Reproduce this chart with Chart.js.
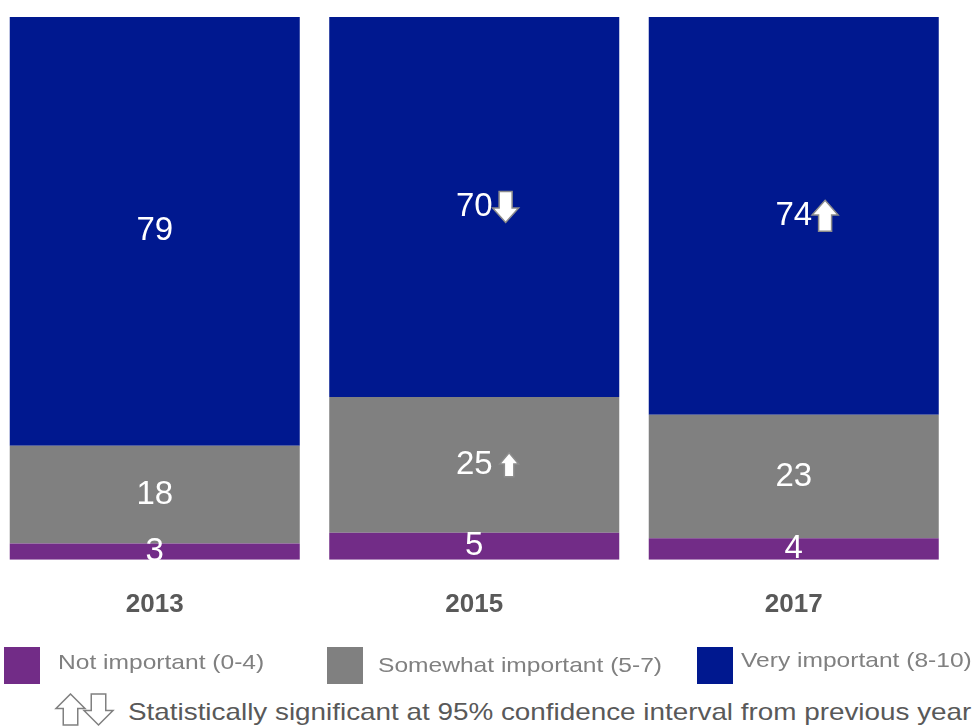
<!DOCTYPE html>
<html>
<head>
<meta charset="utf-8">
<script src="https://cdn.jsdelivr.net/npm/chart.js@4.4.0/dist/chart.umd.min.js"></script>
<style>
    html, body { margin: 0; padding: 0; background: #fff; }
    body { width: 977px; height: 727px; position: relative; overflow: hidden; font-family: "Liberation Sans", Arial, sans-serif; }
    #chartBox { position: absolute; left: -5px; top: 0; width: 970px; height: 670px; }
    .lg-box { position: absolute; width: 36px; height: 37px; top: 647px; }
    .lg-text { position: absolute; font-size: 21px; color: #808080; white-space: nowrap; transform-origin: 0 0; transform: scaleX(1.17); line-height: 24px; }
    #note { position: absolute; left: 128px; top: 698px; font-size: 24px; color: #595959; white-space: nowrap; transform-origin: 0 0; transform: scaleX(1.16); line-height: 28px; }
    #noteArrows { position: absolute; left: 54px; top: 693px; }
</style>
</head>
<body>
<div id="chartBox"><canvas id="chart"></canvas></div>
<div id="legend"></div>
<svg id="noteArrows" width="62" height="34"></svg>
<div id="note">Statistically significant at 95% confidence interval from previous year</div>

<script>
    // 调查年份与各档占比
    const years = ['2013', '2015', '2017'];
    const notImportant = [3, 5, 4];
    const somewhatImportant = [18, 25, 23];
    const veryImportant = [79, 70, 74];

    // 显著变化: 1 上升, -1 下降, 0 无
    const notChange = [0, 0, 0];
    const somewhatChange = [0, 1, 0];
    const veryChange = [0, -1, 1];

    const seriesNames = ['Not important (0-4)', 'Somewhat important (5-7)', 'Very important (8-10)'];
    const seriesColors = ['#722c87', '#808080', '#00188f'];

    // 每年合计，用于换算成百分比堆叠
    const totals = years.map(function (y, i) {
        return notImportant[i] + somewhatImportant[i] + veryImportant[i];
    });
    function share(arr) {
        return arr.map(function (v, i) { return v / totals[i] * 100; });
    }

    // 箭头大小按系列设定
    const arrowStyle = [
        { w: 20, h: 24, gap: 6 },
        { w: 19, h: 24, gap: 7 },
        { w: 26, h: 31, gap: 0 }
    ];

    function arrowPath(ctx, x, y, w, h, dir) {
        var hh = h * 0.47;
        ctx.beginPath();
        if (dir > 0) {
            ctx.moveTo(x + w / 2, y);
            ctx.lineTo(x + w, y + hh);
            ctx.lineTo(x + w * 0.75, y + hh);
            ctx.lineTo(x + w * 0.75, y + h);
            ctx.lineTo(x + w * 0.25, y + h);
            ctx.lineTo(x + w * 0.25, y + hh);
            ctx.lineTo(x, y + hh);
        } else {
            ctx.moveTo(x + w / 2, y + h);
            ctx.lineTo(x + w, y + h - hh);
            ctx.lineTo(x + w * 0.75, y + h - hh);
            ctx.lineTo(x + w * 0.75, y);
            ctx.lineTo(x + w * 0.25, y);
            ctx.lineTo(x + w * 0.25, y + h - hh);
            ctx.lineTo(x, y + h - hh);
        }
        ctx.closePath();
    }

    // 柱内数值 + 显著性箭头
    const barLabels = {
        id: 'barLabels',
        afterDatasetsDraw: function (chart) {
            var ctx = chart.ctx;
            ctx.save();
            ctx.font = '33px "Liberation Sans", Arial, sans-serif';
            ctx.fillStyle = '#ffffff';
            ctx.textAlign = 'center';
            ctx.textBaseline = 'middle';
            chart.data.datasets.forEach(function (ds, di) {
                var meta = chart.getDatasetMeta(di);
                meta.data.forEach(function (bar, i) {
                    var cy = (bar.y + bar.base) / 2;
                    var txt = String(ds.raw[i]);
                    ctx.fillStyle = '#ffffff';
                    ctx.fillText(txt, bar.x, cy);
                    var dir = ds.change[i];
                    if (dir) {
                        var st = arrowStyle[di];
                        var ax = bar.x + ctx.measureText(txt).width / 2 + st.gap;
                        arrowPath(ctx, ax, cy - st.h / 2, st.w, st.h, dir);
                        ctx.fillStyle = '#ffffff';
                        ctx.fill();
                        ctx.lineWidth = 1.5;
                        ctx.strokeStyle = '#8c8c8c';
                        ctx.stroke();
                    }
                });
            });
            ctx.restore();
        }
    };

    const raws = [notImportant, somewhatImportant, veryImportant];
    const changes = [notChange, somewhatChange, veryChange];

    new Chart(document.getElementById('chart'), {
        type: 'bar',
        data: {
            labels: years,
            datasets: raws.map(function (arr, i) {
                return {
                    label: seriesNames[i],
                    data: share(arr),
                    raw: arr,
                    change: changes[i],
                    backgroundColor: seriesColors[i],
                    borderWidth: 0,
                    categoryPercentage: 1,
                    barPercentage: 0.9077
                };
            })
        },
        options: {
            responsive: true,
            maintainAspectRatio: false,
            animation: false,
            layout: { padding: { top: 17, right: 11.5, left: 0, bottom: 21 } },
            plugins: { legend: { display: false }, tooltip: { enabled: false } },
            scales: {
                x: {
                    stacked: true,
                    grid: { display: false, drawTicks: false },
                    border: { display: false },
                    ticks: {
                        padding: 29,
                        color: '#595959',
                        font: { family: '"Liberation Sans", Arial, sans-serif', size: 26, weight: 'bold' }
                    }
                },
                y: {
                    stacked: true,
                    display: false,
                    min: 0,
                    max: 100
                }
            }
        },
        plugins: [barLabels]
    });

    // 图例
    const lgBoxLeft = [4, 327, 697];
    const lgTextLeft = [58, 378, 741];
    const lgTextTop = [650, 653, 648];
    var lg = document.getElementById('legend');
    seriesNames.forEach(function (name, i) {
        var b = document.createElement('div');
        b.className = 'lg-box';
        b.style.left = lgBoxLeft[i] + 'px';
        b.style.background = seriesColors[i];
        lg.appendChild(b);
        var t = document.createElement('div');
        t.className = 'lg-text';
        t.style.left = lgTextLeft[i] + 'px';
        t.style.top = lgTextTop[i] + 'px';
        t.textContent = name;
        lg.appendChild(t);
    });

    // 说明里的空心箭头
    function svgArrow(x, y, w, h, dir) {
        var hh = h * 0.47, p;
        if (dir > 0) {
            p = [[x + w / 2, y], [x + w, y + hh], [x + w * 0.75, y + hh], [x + w * 0.75, y + h],
                 [x + w * 0.25, y + h], [x + w * 0.25, y + hh], [x, y + hh]];
        } else {
            p = [[x + w / 2, y + h], [x + w, y + h - hh], [x + w * 0.75, y + h - hh], [x + w * 0.75, y],
                 [x + w * 0.25, y], [x + w * 0.25, y + h - hh], [x, y + h - hh]];
        }
        return '<polygon points="' + p.map(function (q) { return q.join(','); }).join(' ') +
            '" fill="#fff" stroke="#808080" stroke-width="1.5"/>';
    }
    document.getElementById('noteArrows').innerHTML =
        svgArrow(2, 1, 29, 31, 1) + svgArrow(30, 1, 29, 31, -1);
</script>
</body>
</html>
